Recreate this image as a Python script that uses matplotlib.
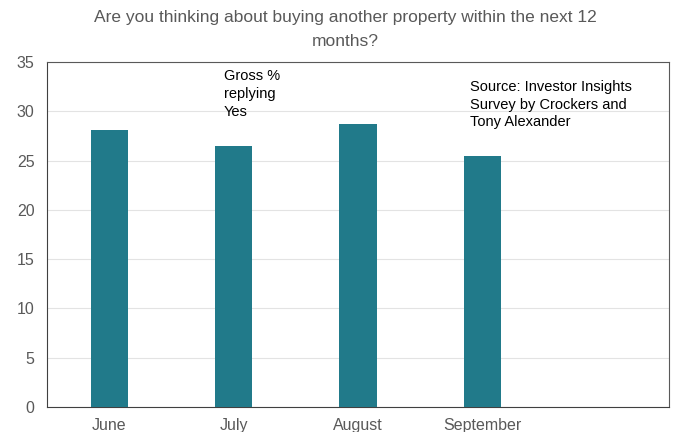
import matplotlib
matplotlib.use("Agg")
from matplotlib import pyplot as plt

months = ["June", "July", "August", "September", ""]
gross_yes = [28.1, 26.5, 28.7, 25.5]

title = "Are you thinking about buying another property within the next 12\nmonths?"
note = "Gross %\nreplying\nYes"
source = "Source: Investor Insights\nSurvey by Crockers and\nTony Alexander"

plt.rcParams["font.family"] = ["Liberation Sans", "DejaVu Sans"]

fig = plt.figure(figsize=(6.79, 4.32), dpi=100)
ax = fig.add_axes([0.0692, 0.0579, 0.9161, 0.7986])

ax.bar(range(len(gross_yes)), gross_yes, width=0.3, color="#217a8a", zorder=3)

ax.set_xlim(-0.5, len(months) - 0.5)
ax.set_ylim(0, 35)
ax.set_yticks(range(0, 36, 5))
ax.set_xticks(range(len(months)))
ax.set_xticklabels(months)
ax.tick_params(axis="both", length=0, labelsize=11.5, colors="#595959")
ax.tick_params(axis="x", pad=8)
ax.tick_params(axis="y", pad=9)
ax.grid(axis="y", color="#e3e3e3", linewidth=0.8, zorder=0)

for side in ["left", "bottom"]:
    ax.spines[side].set_color("#404040")
for side in ["top", "right"]:
    ax.spines[side].set_color("#595959")

ax.text(0.92, 34.3, note, fontsize=10.5, va="top", ha="left", linespacing=1.35)
ax.text(2.9, 33.2, source, fontsize=10.5, va="top", ha="left", linespacing=1.35)

fig.suptitle(title, x=0.508, y=0.977, fontsize=12.5, color="#595959", va="top", linespacing=1.75)

fig.savefig("out.png", dpi=100)
